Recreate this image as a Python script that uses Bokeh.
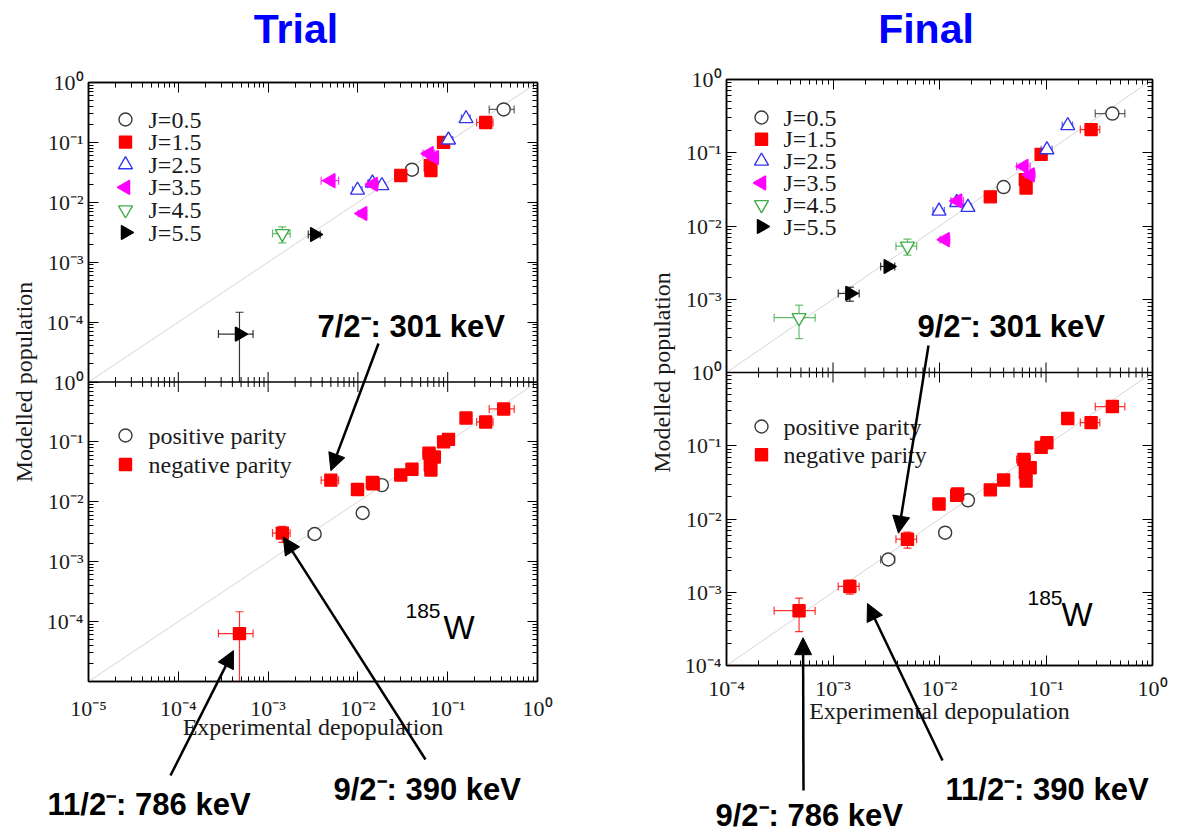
import math
from bokeh.plotting import figure
from bokeh.layouts import row, column
from bokeh.core.properties import value
from bokeh.models import (ColumnDataSource, Range1d, LogScale, LogAxis, FixedTicker,
                          CustomJSTickFormatter, Span, Label, Arrow, NormalHead)
from bokeh.embed import file_html
from bokeh.resources import INLINE

# ---------------- data (185W levels) ----------------
level_names = ["A", "B", "C", "D", "E", "F", "G", "H", "I", "K",
               "L", "M", "N", "O", "P", "Q", "R", "S", "T", "U"]
exp_depop = [0.42, 0.040, 0.265, 0.090, 0.064, 0.065, 0.030, 0.16, 0.102, 0.0099,
             0.0145, 0.0185, 0.0050, 0.0113, 0.0148, 0.062, 0.071, 0.00144, 0.0033, 0.00048]
exp_err = [0.13, 0.004, 0.055, 0.008, 0.006, 0.006, 0.003, 0.018, 0.012, 0.0012,
           0.0015, 0.0015, 0.0011, 0.0012, 0.002, 0.009, 0.008, 0.00032, 0.0005, 0.0002]
trial_pop = [0.355, 0.035, 0.215, 0.100, 0.041, 0.034, 0.028, 0.25, 0.11, 0.016,
             0.021, 0.019, 0.023, 0.0065, 0.020, 0.065, 0.056, 0.0030, 0.0029, 0.000063]
trial_err = [0.01, 0.002, 0.01, 0.005, 0.003, 0.003, 0.002, 0.012, 0.006, 0.001,
             0.0012, 0.001, 0.002, 0.0005, 0.0012, 0.004, 0.004, 0.0009, 0.0002, 0.000083]
final_pop = [0.343, 0.034, 0.207, 0.095, 0.043, 0.033, 0.025, 0.235, 0.11, 0.016,
             0.021, 0.018, 0.0053, 0.0065, 0.022, 0.065, 0.050, 0.0012, 0.0028, 0.00056]
final_err = [0.01, 0.002, 0.01, 0.005, 0.003, 0.003, 0.002, 0.012, 0.006, 0.001,
             0.0012, 0.001, 0.0013, 0.0005, 0.0012, 0.004, 0.004, 0.00026, 0.0002, 0.00027]
trial_spin = [0.5, 0.5, 1.5, 1.5, 1.5, 1.5, 1.5, 2.5, 2.5, 2.5,
              2.5, 2.5, 3.5, 3.5, 3.5, 3.5, 3.5, 4.5, 5.5, 5.5]
final_spin = [0.5, 0.5, 1.5, 1.5, 1.5, 1.5, 1.5, 2.5, 2.5, 2.5,
              2.5, 2.5, 4.5, 3.5, 3.5, 3.5, 3.5, 5.5, 5.5, 4.5]
parity = ["-", "-", "-", "-", "-", "-", "-", "-", "-", "-",
          "-", "+", "-", "+", "-", "-", "-", "-", "+", "-"]

spin_values = [0.5, 1.5, 2.5, 3.5, 4.5, 5.5]
spin_labels = ["J=0.5", "J=1.5", "J=2.5", "J=3.5", "J=4.5", "J=5.5"]
parity_values = ["+", "-"]
parity_labels = ["positive parity", "negative parity"]

panel_titles = ["Trial", "Final"]
x_label = "Experimental depopulation"
y_label = "Modelled population"
nucleus_mass = "185"
nucleus_symbol = "W"

# annotations: (text, level index)
trial_notes = [("7/2\u207b: 301 keV", 12), ("11/2\u207b: 786 keV", 19), ("9/2\u207b: 390 keV", 17)]
final_notes = [("9/2\u207b: 301 keV", 12), ("9/2\u207b: 786 keV", 19), ("11/2\u207b: 390 keV", 17)]

# ---------------- styles ----------------
SERIF = "Liberation Serif"
SANS = "Liberation Sans"
PAGE_W, PAGE_H = 1184, 833
MID = 0.345  # baseline -> em-middle offset (fraction of font size)

SPIN_STYLE = {
    0.5: dict(marker="circle", size=13, angle=0.0, fill="white", color="#3a3a3a"),
    1.5: dict(marker="square", size=12, angle=0.0, fill="#ff0000", color="#ff0000"),
    2.5: dict(marker="triangle", size=14, angle=0.0, fill="white", color="#3434ee"),
    3.5: dict(marker="triangle", size=14, angle=math.pi / 2, fill="#ff00ff", color="#ff00ff"),
    4.5: dict(marker="inverted_triangle", size=14, angle=0.0, fill="white", color="#3fae49"),
    5.5: dict(marker="triangle", size=14, angle=-math.pi / 2, fill="#000000", color="#000000"),
}
PARITY_STYLE = {"+": SPIN_STYLE[0.5], "-": SPIN_STYLE[1.5]}

SUP_JS = """
const sup = {"0":"\u2070","1":"\u00b9","2":"\u00b2","3":"\u00b3","4":"\u2074","5":"\u2075",
             "6":"\u2076","7":"\u2077","8":"\u2078","9":"\u2079","-":"\u207b"};
let e = Math.round(Math.log10(tick));
if (e < -n) { e = e + n; } else if (e == -n) { e = 0; }
return "10" + String(e).split("").map(c => sup[c]).join("");
"""


def exp_formatter(n):
    return CustomJSTickFormatter(args=dict(n=n), code=SUP_JS)


def blank_formatter():
    return CustomJSTickFormatter(code='return "";')


def decade_ticker(lo_exp):
    majors = [10.0 ** k for k in range(lo_exp, 1)]
    minors = [m * 10.0 ** k for k in range(lo_exp, 0) for m in range(2, 10)]
    return FixedTicker(ticks=majors, minor_ticks=minors)


def style_axis(ax):
    ax.axis_line_color = "black"
    ax.axis_line_width = 1.5
    ax.major_tick_in = 10
    ax.major_tick_out = 0
    ax.minor_tick_in = 5
    ax.minor_tick_out = 0
    ax.major_tick_line_color = "black"
    ax.minor_tick_line_color = "black"
    ax.major_label_text_font = SERIF
    ax.major_label_text_font_size = "22px"
    ax.major_label_text_color = "#1a1a1a"
    ax.axis_label_text_font = SERIF
    ax.axis_label_text_font_size = "24px"
    ax.axis_label_text_font_style = "normal"
    ax.axis_label_text_color = "#1a1a1a"


def add_group(p, idx, pop, perr, style, ymin, range_name):
    nan = float("nan")
    xs = [exp_depop[i] for i in idx]
    exs = [exp_err[i] for i in idx]
    ys = [pop[i] for i in idx]
    eys = [perr[i] for i in idx]
    src = ColumnDataSource(dict(
        x=xs, y=ys,
        xl=[x - e for x, e in zip(xs, exs)],
        xh=[x + e for x, e in zip(xs, exs)],
        yl=[max(y - e, ymin) for y, e in zip(ys, eys)],
        ylcap=[(y - e) if (y - e) > ymin else nan for y, e in zip(ys, eys)],
        yh=[y + e for y, e in zip(ys, eys)],
    ))
    kw = {} if range_name is None else {"y_range_name": range_name}
    col = style["color"]
    eb = dict(source=src, line_color=col, line_width=1.2, line_alpha=0.8, **kw)
    p.segment(x0="xl", y0="y", x1="xh", y1="y", **eb)
    p.segment(x0="x", y0="yl", x1="x", y1="yh", **eb)
    p.scatter(x="xl", y="y", marker="dash", angle=math.pi / 2, size=8, **eb)
    p.scatter(x="xh", y="y", marker="dash", angle=math.pi / 2, size=8, **eb)
    p.scatter(x="x", y="ylcap", marker="dash", size=8, **eb)
    p.scatter(x="x", y="yh", marker="dash", size=8, **eb)
    return p.scatter(x="x", y="y", source=src, marker=style["marker"], size=style["size"],
                     angle=style["angle"], fill_color=style["fill"], line_color=col,
                     line_width=1.4, **kw)


def frame_geom(cfg):
    bl, br, bt, bb = cfg["borders"]
    return (cfg["x_off"] + bl, cfg["x_off"] + cfg["width"] - br, bt, PAGE_H - bb)


def to_px(cfg, x, y, panel):
    x0, x1, y0, y1 = frame_geom(cfg)
    xd, nd = cfg["x_decades"], cfg["y_decades"]
    ph = (y1 - y0) / 2.0
    sx = x0 + (math.log10(x) + xd) / xd * (x1 - x0)
    top = y0 if panel == "top" else y0 + ph
    return sx, top + (-math.log10(y)) / nd * ph


def build_side(pop, perr, spins, cfg):
    nd = cfg["y_decades"]
    xd = cfg["x_decades"]
    ylow = 10.0 ** (-nd)
    xlow = 10.0 ** (-xd)
    bl, br, bt, bb = cfg["borders"]
    fh = PAGE_H - bt - bb
    dpd = fh / (2.0 * nd)

    p = figure(width=cfg["width"], height=PAGE_H, x_axis_type="log", y_axis_type="log",
               x_range=Range1d(xlow, 1.0), y_range=Range1d(ylow * ylow, 1.0),
               min_border_left=bl, min_border_right=br, min_border_top=bt, min_border_bottom=bb,
               output_backend="svg", toolbar_location=None, title=None, frame_align=False)
    p.extra_y_ranges = {"bot": Range1d(ylow, 1.0 / ylow)}
    p.extra_y_scales = {"bot": LogScale()}
    p.grid.visible = False
    p.outline_line_color = "black"
    p.outline_line_width = 1.5
    p.background_fill_color = "white"
    p.border_fill_color = "white"

    xt = decade_ticker(-xd)
    yt = decade_ticker(-2 * nd)
    xa = p.xaxis[0]
    ya = p.yaxis[0]
    style_axis(xa)
    style_axis(ya)
    xa.ticker = xt
    xa.formatter = exp_formatter(99)
    xa.axis_label = x_label
    xa.major_label_standoff = cfg["xl_standoff"]
    xa.axis_label_standoff = cfg["xa_standoff"]
    ya.ticker = yt
    ya.formatter = exp_formatter(nd)
    ya.axis_label = y_label
    ya.major_label_standoff = 5
    ya.axis_label_standoff = 7

    top = LogAxis(ticker=xt, formatter=blank_formatter())
    right = LogAxis(ticker=yt, formatter=blank_formatter())
    for ax in (top, right):
        style_axis(ax)
        ax.major_label_text_font_size = "0px"
        ax.major_label_standoff = 0
    p.add_layout(top, "above")
    p.add_layout(right, "right")

    # separator between the two panels, with ticks on both sides
    p.add_layout(Span(location=ylow, dimension="width", line_color="black", line_width=1.5))
    for ticks, plen in ((xt.ticks, 10), (xt.minor_ticks, 5)):
        f = 10.0 ** (plen / dpd)
        p.segment(x0=ticks, x1=ticks, y0=[ylow / f] * len(ticks), y1=[ylow * f] * len(ticks),
                  line_color="black", line_width=1)

    # y = x reference lines
    p.line([xlow, 1.0], [xlow, 1.0], line_color="#d6d6d6", line_width=1)
    p.line([xlow, 1.0], [xlow, 1.0], line_color="#d6d6d6", line_width=1, y_range_name="bot")

    for j in spin_values:
        idx = [i for i, s in enumerate(spins) if s == j]
        add_group(p, idx, pop, perr, SPIN_STYLE[j], ylow, None)
    for pv in parity_values:
        idx = [i for i, s in enumerate(parity) if s == pv]
        add_group(p, idx, pop, perr, PARITY_STYLE[pv], ylow, "bot")
    return p


def legend_block(ov, spec, labels, styles):
    mx, tx, y0, pitch = spec
    ys = [y0 + k * pitch for k in range(len(labels))]
    for y, st in zip(ys, styles):
        ov.scatter([mx], [y], marker=st["marker"], size=st["size"], angle=st["angle"],
                   fill_color=st["fill"], line_color=st["color"], line_width=1.4)
    ov.text(x=[tx] * len(labels), y=ys, text=labels, text_font=value(SERIF),
            text_font_size="24px", text_color="#1a1a1a", text_baseline="middle")


def text_label(ov, x, baseline, text, size, align="left", bold=False, color="black"):
    ov.add_layout(Label(x=x, y=baseline - MID * size, text=text, text_align=align,
                        text_baseline="middle", text_font=SANS,
                        text_font_style="bold" if bold else "normal",
                        text_font_size=f"{size}px", text_color=color))


def decorate(ov, title, pop, notes, cfg):
    tx, ty = cfg["title_pos"]
    text_label(ov, tx, ty, title, 41, align="center", bold=True, color="#0000ff")
    legend_block(ov, cfg["leg_top"], spin_labels, [SPIN_STYLE[j] for j in spin_values])
    legend_block(ov, cfg["leg_bot"], parity_labels, [PARITY_STYLE[v] for v in parity_values])
    mx, my = cfg["mass_pos"]
    sx, sy = cfg["sym_pos"]
    text_label(ov, mx, my, nucleus_mass, 21)
    text_label(ov, sx, sy, nucleus_symbol, 33)
    for (text, li), (lx, ly), (ax, ay), (dx, dy) in zip(notes, cfg["note_pos"], cfg["arrow_start"],
                                                         cfg["arrow_tip"]):
        text_label(ov, lx, ly, text, 31, bold=True)
        px, py = to_px(cfg, exp_depop[li], pop[li], "bottom")
        ov.add_layout(Arrow(x_start=ax, y_start=ay, x_end=px + dx, y_end=py + dy,
                            line_color="black", line_width=2.5,
                            end=NormalHead(size=17, fill_color="black", line_color="black",
                                           line_width=1)))


trial_cfg = dict(
    x_off=0, width=600, y_decades=5, x_decades=5, borders=(88, 63, 82, 152),
    xl_standoff=14, xa_standoff=-10,
    leg_top=(125, 148, 119, 22.6), leg_bot=(125, 148, 435, 29.0),
    title_pos=(295.5, 43), mass_pos=(405, 618), sym_pos=(443, 638),
    note_pos=[(317, 337), (47, 815), (333, 800)],
    arrow_start=[(378, 343), (170, 775), (425, 759)],
    arrow_tip=[(0, -9.5), (-6, 17), (1, 4)],
)
final_cfg = dict(
    x_off=600, width=584, y_decades=4, x_decades=4, borders=(126, 32, 79, 168),
    xl_standoff=10, xa_standoff=-6,
    leg_top=(761, 783, 117, 21.8), leg_bot=(761, 783, 426, 28.3),
    title_pos=(925.5, 43), mass_pos=(1027, 605), sym_pos=(1061, 625),
    note_pos=[(917, 337), (715, 826), (945, 800)],
    arrow_start=[(928, 345), (803, 790), (942, 760)],
    arrow_tip=[(-9, -6), (4, 27), (17.6, 17)],
)

p_trial = build_side(trial_pop, trial_err, trial_spin, trial_cfg)
p_final = build_side(final_pop, final_err, final_spin, final_cfg)

# transparent overlay in page pixels for titles, legends, labels and arrows
ov = figure(width=PAGE_W, height=PAGE_H, x_range=Range1d(0, PAGE_W), y_range=Range1d(PAGE_H, 0),
            output_backend="svg", toolbar_location=None, title=None, min_border=0,
            min_border_left=0, min_border_right=0, min_border_top=0, min_border_bottom=0,
            x_axis_location=None, y_axis_location=None, frame_align=False)
ov.grid.visible = False
ov.outline_line_color = None
ov.background_fill_color = None
ov.border_fill_color = None
ov.margin = (-PAGE_H, 0, 0, 0)

decorate(ov, panel_titles[0], trial_pop, trial_notes, trial_cfg)
decorate(ov, panel_titles[1], final_pop, final_notes, final_cfg)

layout = column(row(p_trial, p_final, spacing=0), ov, spacing=0)
open("out.html", "w").write(file_html(layout, INLINE))
